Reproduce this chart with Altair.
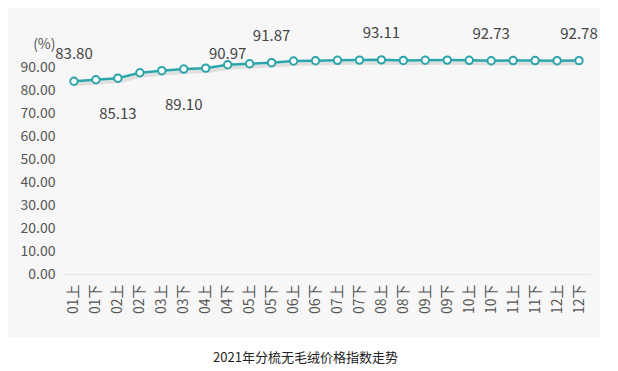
import altair as alt
import pandas as pd

categories = ["01上", "01下", "02上", "02下", "03上", "03下", "04上", "04下",
              "05上", "05下", "06上", "06下", "07上", "07下", "08上", "08下",
              "09上", "09下", "10上", "10下", "11上", "11下", "12上", "12下"]
values = [83.80, 84.45, 85.13, 87.50, 88.40, 89.10, 89.50, 90.97,
          91.40, 91.87, 92.60, 92.70, 92.90, 93.00, 93.11, 92.85,
          92.95, 93.00, 92.90, 92.73, 92.80, 92.80, 92.75, 92.78]
y_ticks = [0, 10, 20, 30, 40, 50, 60, 70, 80, 90, 100]

label_cats = ["01上", "02上", "03下", "04下", "05下", "08上", "10下", "12下"]
label_side = ["high", "low", "low", "mid", "high", "high", "high", "high"]

FONT = "Noto Sans CJK SC"
TEAL = "#2ba4aa"

df = pd.DataFrame({"cat": categories, "val": values})
lab = pd.DataFrame({
    "cat": label_cats,
    "val": [values[categories.index(c)] for c in label_cats],
    "side": label_side,
})

xscale = alt.Scale(type="point", padding=0.5)
yscale = alt.Scale(domain=[0, 100], nice=False)

xenc = alt.X("cat:O", sort=categories, scale=xscale,
             axis=alt.Axis(title=None, labelAngle=270, ticks=False, zindex=1,
                           domainColor="#e6e6e6", labelPadding=10, labelOverlap=False,
                           labelFontSize=14, labelColor="#555", labelFont=FONT))
yenc = alt.Y("val:Q", scale=yscale,
             axis=alt.Axis(title=None, values=y_ticks, zindex=1,
                           labelExpr="datum.value == 100 ? '(%)\u00a0\u00a0\u00a0' : format(datum.value, '.2f')",
                           domain=False, ticks=False, grid=False, labelPadding=8,
                           labelOverlap=False, labelBound=False,
                           labelFontSize=14, labelColor="#555", labelFont=FONT))

bg = alt.Chart(pd.DataFrame({"a": [0]})).mark_rect(color="#f7f7f7").encode(
    x=alt.value(-55), x2=alt.value(545), y=alt.value(-36), y2=alt.value(293))

base = alt.Chart(df).encode(x=xenc, y=yenc)
shadow = base.mark_line(color="#555", opacity=0.15, strokeWidth=3.5, xOffset=2, yOffset=3)
line = base.mark_line(color=TEAL, strokeWidth=2.5)
pts = base.mark_point(shape="circle", filled=True, fill="white", stroke=TEAL,
                      strokeWidth=2, size=55, opacity=1)

lbase = alt.Chart(lab).encode(x=xenc, y=yenc, text=alt.Text("val:Q", format=".2f"))
offsets = {"high": -27, "low": 36, "mid": -11}
texts = [lbase.transform_filter(alt.datum.side == s).mark_text(
            dy=d, fontSize=15, font=FONT, color="#444", baseline="middle")
         for s, d in offsets.items()]

chart = alt.layer(bg, shadow, line, pts, *texts).properties(
    width=527, height=230,
    autosize=alt.AutoSizeParams(type="none"),
    padding={"left": 55, "top": 36, "right": 10, "bottom": 91},
    title=alt.TitleParams("2021年分梳无毛绒价格指数走势", orient="bottom",
                          fontSize=13, font=FONT, color="#222", fontWeight="normal",
                          offset=15, dx=-21),
).configure_view(stroke=None).configure(background="white")

chart.save("out.html", embed_options={"renderer": "svg", "actions": False})
